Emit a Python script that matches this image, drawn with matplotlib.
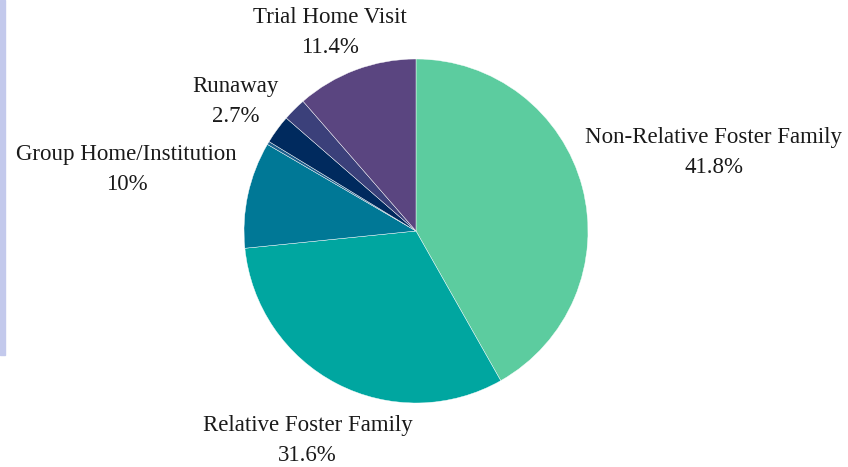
import numpy as np
import matplotlib.pyplot as plt
from matplotlib.patches import Rectangle

# Datos del gráfico
categorias = ['Non-Relative Foster Family', 'Relative Foster Family', 'Group Home/Institution',
              'Other', 'Runaway', 'Other 2', 'Trial Home Visit']
valores = [41.8, 31.6, 10.0, 0.3, 2.7, 2.2, 11.4]
etiquetas = ['41.8%', '31.6%', '10%', None, '2.7%', None, '11.4%']
colores = ['#5ccc9f', '#00a6a0', '#007896', '#1d5e8c', '#002a5e', '#3b407a', '#5a4580']

# distancia de la etiqueta (en radios) y ajuste de angulo
dist_etiq = [1.79, 1.37, 1.72, None, 1.29, None, 1.26]
ajuste_ang = [0, 0, 0.3, 0, 0.5, 0, 3]

W, H = 848, 467
fig = plt.figure(figsize=(W / 100, H / 100), dpi=100)

# barra lateral
fig.patches.append(Rectangle((0, 1 - 355 / H), 5 / W, 355 / H, transform=fig.transFigure,
                             color='#c3c9ec', zorder=0))

cx, cy, r = 416, 231, 172
ax = fig.add_axes([(cx - r) / W, (H - cy - r) / H, 2 * r / W, 2 * r / H])
cunas, _ = ax.pie(valores, colors=colores, startangle=90, counterclock=False, radius=1,
                  wedgeprops=dict(edgecolor='white', linewidth=0.3))
ax.set_xlim(-1, 1)
ax.set_ylim(-1, 1)
ax.set_aspect('equal')
ax.axis('off')

fuente = 'Liberation Serif'
for cuna, nombre, etiq, d, a in zip(cunas, categorias, etiquetas, dist_etiq, ajuste_ang):
    if etiq is None:
        continue
    ang = np.deg2rad((cuna.theta1 + cuna.theta2) / 2 + a)
    x, y = d * np.cos(ang), d * np.sin(ang)
    ax.text(x, y, nombre + '\n' + etiq, ha='center', va='center', fontsize=16.5,
            family=fuente, color='#1a1a1a', linespacing=1.55, clip_on=False)

fig.savefig('out.png', dpi=100)
